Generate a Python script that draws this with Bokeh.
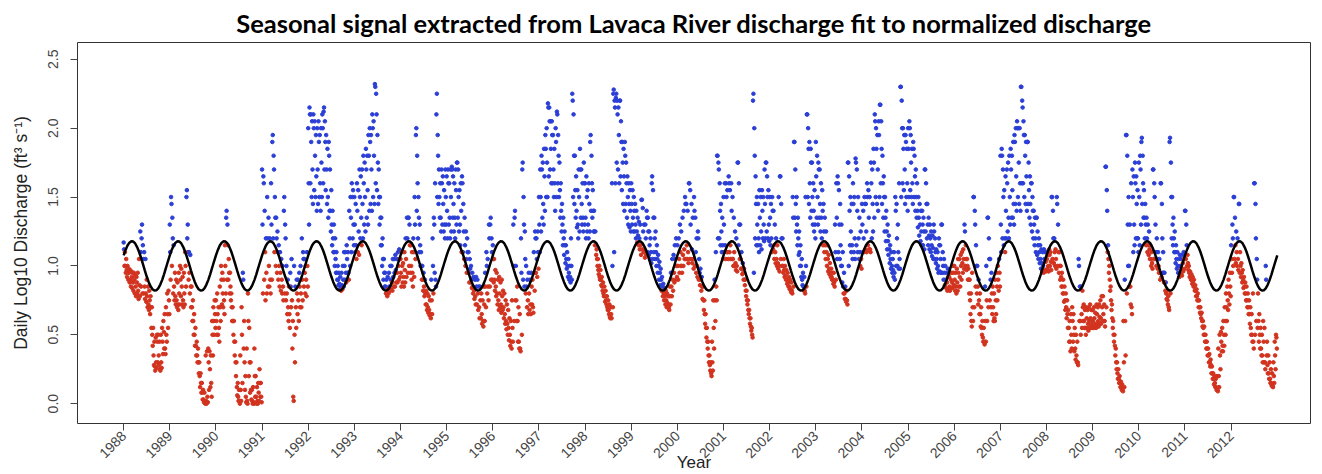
import math
from bokeh.plotting import figure
from bokeh.models import FixedTicker
from bokeh.embed import file_html
from bokeh.resources import INLINE

title_text = "Seasonal signal extracted from Lavaca River discharge fit to normalized discharge"
y_title = "Daily Log10 Discharge (ft\u00b3 s\u207b\u00b9)"
x_title = "Year"

years = list(range(1988, 2013))
year_labels = [str(y) for y in years]
y_ticks = [0.0, 0.5, 1.0, 1.5, 2.0, 2.5]
y_tick_labels = ["0.0", "0.5", "1.0", "1.5", "2.0", "2.5"]

# fitted seasonal signal, one year sampled twice a month (repeats every year)
seasonal_curve = [1.077, 1.116, 1.148, 1.169, 1.179, 1.177, 1.163, 1.137,
                  1.103, 1.061, 1.015, 0.968, 0.923, 0.884, 0.852, 0.831,
                  0.821, 0.823, 0.837, 0.863, 0.897, 0.939, 0.985, 1.032]

# log10 discharge in ~10-day windows:
# d = typical reading, hi = top of the point cloud, lo = bottom of the cloud
d1988 = [1.12, 1.0, 0.97, 0.95, 0.95, 0.9, 0.92, 0.88, 0.9, 0.85, 0.88, 0.82, 0.86, 1.1, 1.3, 1.05, 0.85, 0.8, 0.78, 0.72, 0.75, 0.7, 0.5, 0.35, 0.27, 0.3, 0.45, 0.35, 0.25, 0.3, 0.45, 0.52, 0.4, 0.5, 0.65, 0.75]
hi1988 = [1.17, 1.1, 1.05, 1.0, 0.98, 0.97, 0.96, 0.95, 0.95, 0.93, 0.92, 0.95, 1.05, 1.25, 1.2, 1.15, 1.1, 1.05, 0.9, 0.85, 0.82, 0.78, 0.7, 0.55, 0.45, 0.48, 0.5, 0.5, 0.45, 0.5, 0.55, 0.6, 0.65, 0.7, 0.8, 0.82]
lo1988 = [1.0, 0.95, 0.92, 0.9, 0.88, 0.85, 0.84, 0.82, 0.8, 0.78, 0.8, 0.76, 0.78, 0.85, 0.8, 0.8, 0.76, 0.74, 0.7, 0.68, 0.65, 0.55, 0.42, 0.28, 0.24, 0.26, 0.3, 0.28, 0.24, 0.26, 0.36, 0.4, 0.36, 0.45, 0.55, 0.65]
d1989 = [1.1, 1.45, 1.2, 0.85, 0.78, 0.75, 0.72, 0.8, 0.9, 0.85, 0.75, 0.8, 1.0, 1.55, 1.1, 0.95, 0.85, 0.7, 0.6, 0.5, 0.42, 0.35, 0.3, 0.2, 0.15, 0.08, 0.03, 0.01, 0.02, 0.05, 0.3, 0.25, 0.15, 0.5, 0.6, 0.65]
hi1989 = [1.3, 1.5, 1.35, 1.15, 0.95, 0.9, 0.88, 0.95, 1.0, 0.98, 0.92, 0.95, 1.1, 1.5, 1.3, 1.1, 1.08, 0.85, 0.75, 0.65, 0.55, 0.45, 0.4, 0.3, 0.22, 0.15, 0.1, 0.08, 0.35, 0.38, 0.4, 0.38, 0.35, 0.6, 0.7, 0.75]
lo1989 = [0.9, 1.0, 0.8, 0.75, 0.72, 0.7, 0.68, 0.72, 0.78, 0.72, 0.7, 0.72, 0.85, 1.2, 0.9, 0.8, 0.7, 0.6, 0.5, 0.42, 0.35, 0.3, 0.22, 0.12, 0.08, 0.03, 0.01, 0.0, 0.0, 0.01, 0.1, 0.12, 0.05, 0.35, 0.5, 0.55]
d1990 = [0.6, 0.65, 0.55, 0.7, 0.9, 0.8, 0.75, 1.0, 1.4, 1.15, 0.95, 0.85, 0.7, 0.6, 0.45, 0.3, 0.12, 0.05, 0.02, 0.1, 0.5, 0.9, 0.3, 0.05, 0.02, 0.6, 0.3, 0.1, 0.02, 0.01, 0.2, 0.05, 0.02, 0.08, 0.15, 0.05]
hi1990 = [0.75, 0.8, 0.7, 0.85, 1.0, 0.95, 0.9, 1.15, 1.35, 1.3, 1.05, 0.95, 0.8, 0.7, 0.6, 0.45, 0.3, 0.15, 0.1, 0.35, 0.7, 0.95, 0.6, 0.2, 0.4, 0.8, 0.55, 0.3, 0.1, 0.12, 0.4, 0.2, 0.12, 0.15, 0.25, 0.15]
lo1990 = [0.5, 0.5, 0.45, 0.6, 0.72, 0.7, 0.65, 0.8, 0.9, 0.9, 0.8, 0.75, 0.6, 0.5, 0.35, 0.2, 0.06, 0.02, 0.0, 0.02, 0.15, 0.4, 0.1, 0.01, 0.0, 0.2, 0.08, 0.03, 0.0, 0.0, 0.05, 0.0, 0.0, 0.02, 0.05, 0.01]
d1991 = [1.3, 1.6, 1.1, 0.95, 1.2, 1.0, 0.9, 1.3, 1.95, 1.7, 1.35, 1.2, 1.1, 1.0, 0.95, 0.9, 0.85, 1.5, 1.2, 0.8, 0.7, 0.65, 0.85, 0.75, 0.05, 0.5, 0.7, 0.8, 0.75, 0.85, 0.8, 0.9, 1.05, 0.95, 0.9, 1.0]
hi1991 = [1.7, 1.65, 1.4, 1.2, 1.5, 1.35, 1.2, 1.6, 1.9, 1.8, 1.5, 1.35, 1.25, 1.15, 1.1, 1.05, 1.0, 1.4, 1.3, 1.0, 0.9, 0.85, 0.95, 1.05, 0.6, 1.0, 0.85, 0.9, 0.9, 0.95, 1.0, 1.2, 1.1, 1.05, 1.0, 1.1]
lo1991 = [0.8, 0.9, 0.75, 0.8, 0.85, 0.85, 0.8, 0.9, 1.2, 1.1, 1.0, 0.95, 0.9, 0.85, 0.82, 0.8, 0.75, 0.8, 0.75, 0.65, 0.6, 0.55, 0.7, 0.4, 0.02, 0.3, 0.55, 0.65, 0.6, 0.7, 0.7, 0.75, 0.85, 0.8, 0.78, 0.85]
d1992 = [1.6, 2.1, 1.9, 1.7, 2.0, 1.8, 1.65, 1.7, 1.9, 1.6, 1.75, 2.0, 2.15, 1.9, 1.7, 1.5, 1.8, 1.4, 1.3, 1.2, 1.1, 1.05, 0.95, 0.9, 0.87, 0.85, 0.86, 0.9, 1.0, 0.95, 1.05, 0.95, 1.2, 1.35, 1.5, 1.3]
hi1992 = [2.0, 2.15, 2.1, 2.05, 2.1, 2.05, 1.95, 2.0, 2.05, 1.95, 2.0, 2.1, 2.12, 2.05, 1.95, 1.85, 1.9, 1.7, 1.55, 1.4, 1.3, 1.2, 1.1, 1.0, 0.95, 0.92, 0.95, 1.0, 1.1, 1.1, 1.15, 1.1, 1.4, 1.5, 1.6, 1.55]
lo1992 = [1.3, 1.6, 1.5, 1.45, 1.55, 1.5, 1.4, 1.45, 1.5, 1.4, 1.5, 1.6, 1.7, 1.55, 1.45, 1.35, 1.4, 1.25, 1.15, 1.1, 1.0, 0.95, 0.9, 0.86, 0.83, 0.82, 0.83, 0.85, 0.9, 0.88, 0.95, 0.9, 1.0, 1.1, 1.2, 1.15]
d1993 = [1.3, 1.15, 1.4, 1.25, 1.5, 1.35, 1.45, 1.6, 1.5, 1.7, 1.55, 1.8, 1.9, 1.7, 2.0, 1.8, 2.3, 2.1, 1.75, 1.5, 1.35, 1.15, 1.05, 0.95, 0.85, 0.8, 0.83, 0.85, 0.9, 0.88, 0.92, 0.95, 0.97, 0.95, 1.0, 1.05]
hi1993 = [1.5, 1.45, 1.6, 1.55, 1.7, 1.65, 1.7, 1.8, 1.75, 1.85, 1.8, 1.95, 2.0, 1.95, 2.1, 2.05, 2.32, 2.25, 1.95, 1.7, 1.5, 1.35, 1.2, 1.05, 0.95, 0.9, 0.92, 0.95, 1.0, 1.0, 1.05, 1.05, 1.08, 1.05, 1.1, 1.12]
lo1993 = [1.1, 1.05, 1.1, 1.08, 1.2, 1.15, 1.2, 1.3, 1.25, 1.35, 1.3, 1.4, 1.45, 1.4, 1.5, 1.45, 1.6, 1.55, 1.45, 1.3, 1.15, 1.0, 0.9, 0.85, 0.8, 0.78, 0.8, 0.82, 0.83, 0.82, 0.85, 0.85, 0.88, 0.88, 0.9, 0.92]
d1994 = [0.95, 1.0, 0.92, 0.97, 1.05, 1.2, 1.35, 1.15, 1.0, 0.95, 1.1, 1.3, 2.0, 1.6, 1.35, 1.15, 1.0, 0.9, 0.85, 0.8, 0.72, 0.7, 0.68, 0.65, 0.75, 1.0, 1.3, 0.9, 2.25, 1.8, 1.5, 1.35, 1.6, 1.45, 1.3, 1.5]
hi1994 = [1.05, 1.1, 1.02, 1.1, 1.2, 1.35, 1.35, 1.3, 1.15, 1.1, 1.2, 1.5, 1.95, 1.8, 1.5, 1.3, 1.1, 1.0, 0.95, 0.9, 0.82, 0.8, 0.78, 0.75, 0.9, 1.2, 1.35, 1.6, 2.1, 1.95, 1.7, 1.6, 1.7, 1.65, 1.55, 1.7]
lo1994 = [0.85, 0.88, 0.85, 0.88, 0.92, 0.95, 1.0, 0.95, 0.9, 0.85, 0.92, 1.05, 1.4, 1.2, 1.1, 1.0, 0.9, 0.82, 0.78, 0.72, 0.68, 0.66, 0.64, 0.62, 0.65, 0.8, 0.95, 0.85, 1.5, 1.45, 1.35, 1.25, 1.3, 1.25, 1.2, 1.3]
d1995 = [1.4, 1.6, 1.35, 1.5, 1.7, 1.45, 1.35, 1.55, 1.75, 1.5, 1.3, 1.4, 1.6, 1.25, 1.15, 1.05, 1.1, 0.95, 0.98, 0.9, 0.85, 0.82, 0.78, 0.85, 0.8, 0.7, 0.75, 0.65, 0.6, 0.72, 0.85, 1.0, 0.85, 1.2, 1.35, 1.1]
hi1995 = [1.65, 1.7, 1.6, 1.7, 1.72, 1.65, 1.6, 1.7, 1.75, 1.7, 1.55, 1.6, 1.65, 1.45, 1.35, 1.25, 1.2, 1.1, 1.05, 1.0, 0.95, 0.92, 0.9, 0.92, 0.9, 0.85, 0.85, 0.8, 0.75, 0.85, 0.95, 1.1, 1.05, 1.3, 1.3, 1.2]
lo1995 = [1.2, 1.3, 1.2, 1.25, 1.35, 1.25, 1.2, 1.3, 1.35, 1.25, 1.15, 1.1, 1.1, 1.05, 1.0, 0.95, 0.95, 0.88, 0.88, 0.84, 0.8, 0.76, 0.72, 0.72, 0.68, 0.62, 0.62, 0.58, 0.56, 0.6, 0.7, 0.8, 0.75, 0.85, 0.9, 0.9]
d1996 = [1.05, 0.9, 0.85, 0.8, 0.75, 0.8, 0.72, 0.78, 0.7, 0.65, 0.6, 0.58, 0.55, 0.5, 0.45, 0.55, 1.0, 1.4, 0.75, 0.6, 0.45, 0.4, 0.95, 1.75, 1.3, 1.05, 0.85, 0.75, 0.8, 0.72, 0.85, 0.7, 0.95, 1.2, 1.05, 1.1]
hi1996 = [1.15, 1.05, 0.97, 0.95, 0.9, 0.92, 0.88, 0.9, 0.82, 0.8, 0.75, 0.72, 0.68, 0.62, 0.6, 0.75, 1.3, 1.35, 1.0, 0.85, 0.7, 0.65, 1.2, 1.7, 1.5, 1.25, 1.0, 0.9, 0.95, 0.9, 0.95, 0.9, 1.1, 1.25, 1.2, 1.25]
lo1996 = [0.88, 0.82, 0.78, 0.72, 0.68, 0.7, 0.66, 0.68, 0.62, 0.58, 0.54, 0.5, 0.46, 0.42, 0.4, 0.45, 0.6, 0.75, 0.6, 0.45, 0.4, 0.38, 0.5, 0.9, 0.85, 0.8, 0.7, 0.65, 0.68, 0.65, 0.72, 0.66, 0.82, 0.95, 0.92, 0.98]
d1997 = [1.3, 1.5, 1.7, 1.45, 1.65, 1.85, 1.75, 2.15, 2.05, 1.85, 1.95, 1.7, 1.6, 1.9, 2.1, 1.8, 1.55, 1.4, 1.3, 1.2, 1.15, 1.05, 1.0, 0.95, 0.92, 1.0, 2.2, 1.8, 1.55, 1.4, 1.3, 1.5, 1.7, 1.45, 1.35, 1.6]
hi1997 = [1.5, 1.7, 1.8, 1.75, 1.85, 1.95, 2.0, 2.18, 2.15, 2.05, 2.05, 1.95, 1.85, 2.0, 2.12, 1.95, 1.75, 1.6, 1.45, 1.35, 1.25, 1.15, 1.1, 1.05, 1.0, 1.2, 2.25, 2.1, 1.8, 1.65, 1.55, 1.7, 1.85, 1.7, 1.6, 1.75]
lo1997 = [1.1, 1.25, 1.35, 1.3, 1.4, 1.5, 1.5, 1.65, 1.7, 1.6, 1.6, 1.5, 1.4, 1.5, 1.6, 1.5, 1.35, 1.25, 1.15, 1.08, 1.02, 0.98, 0.92, 0.9, 0.88, 0.9, 1.5, 1.45, 1.35, 1.28, 1.2, 1.25, 1.35, 1.3, 1.25, 1.3]
d1998 = [1.35, 1.5, 1.3, 1.45, 1.95, 1.6, 1.4, 1.25, 1.15, 1.05, 0.97, 0.92, 0.9, 0.85, 0.8, 0.78, 0.75, 0.7, 0.68, 0.63, 0.65, 1.0, 2.28, 2.15, 2.25, 2.1, 1.95, 2.2, 1.9, 1.75, 1.65, 1.8, 1.6, 1.5, 1.45, 1.4]
hi1998 = [1.6, 1.65, 1.55, 1.6, 1.9, 1.8, 1.55, 1.4, 1.25, 1.12, 1.05, 1.0, 0.97, 0.92, 0.88, 0.85, 0.82, 0.78, 0.75, 0.72, 0.7, 1.6, 2.25, 2.2, 2.22, 2.2, 2.15, 2.2, 2.05, 1.9, 1.85, 1.9, 1.75, 1.65, 1.6, 1.55]
lo1998 = [1.2, 1.25, 1.2, 1.25, 1.4, 1.35, 1.25, 1.15, 1.08, 1.0, 0.94, 0.9, 0.86, 0.82, 0.78, 0.74, 0.72, 0.68, 0.65, 0.62, 0.62, 0.7, 1.1, 1.6, 1.75, 1.7, 1.6, 1.65, 1.55, 1.45, 1.4, 1.45, 1.35, 1.3, 1.28, 1.25]
d1999 = [1.45, 1.35, 1.4, 1.3, 1.25, 1.22, 1.2, 1.15, 1.48, 1.25, 1.12, 1.2, 1.35, 1.25, 1.15, 1.1, 1.65, 1.35, 1.2, 1.1, 1.05, 1.0, 0.95, 0.9, 0.85, 0.8, 0.78, 0.75, 0.73, 0.7, 0.78, 0.85, 0.9, 0.95, 1.05, 1.0]
hi1999 = [1.6, 1.55, 1.5, 1.45, 1.4, 1.35, 1.32, 1.3, 1.48, 1.42, 1.3, 1.3, 1.4, 1.35, 1.25, 1.2, 1.6, 1.55, 1.35, 1.25, 1.15, 1.08, 1.03, 0.98, 0.92, 0.87, 0.84, 0.82, 0.8, 0.78, 0.85, 0.95, 1.05, 1.08, 1.15, 1.2]
lo1999 = [1.3, 1.25, 1.25, 1.2, 1.17, 1.15, 1.12, 1.08, 1.12, 1.1, 1.06, 1.08, 1.1, 1.08, 1.05, 1.02, 1.05, 1.1, 1.05, 1.0, 0.95, 0.9, 0.86, 0.82, 0.78, 0.75, 0.72, 0.7, 0.7, 0.68, 0.72, 0.78, 0.82, 0.88, 0.9, 0.92]
d2000 = [1.0, 1.05, 1.1, 1.0, 1.08, 1.12, 1.45, 1.15, 1.1, 1.6, 1.3, 1.12, 1.05, 1.4, 1.1, 1.0, 1.2, 0.95, 0.9, 0.85, 0.75, 0.65, 0.55, 0.45, 0.35, 0.28, 0.22, 0.3, 0.55, 0.75, 0.85, 1.8, 1.7, 1.4, 1.25, 1.15]
hi2000 = [1.15, 1.2, 1.3, 1.25, 1.35, 1.4, 1.5, 1.45, 1.4, 1.6, 1.55, 1.45, 1.35, 1.5, 1.35, 1.2, 1.25, 1.05, 0.98, 0.92, 0.85, 0.75, 0.65, 0.55, 0.45, 0.35, 0.3, 0.45, 0.75, 0.9, 1.1, 1.8, 1.75, 1.6, 1.45, 1.35]
lo2000 = [0.9, 0.95, 1.0, 0.95, 1.0, 1.05, 1.05, 1.05, 1.02, 1.05, 1.05, 1.02, 0.98, 1.0, 0.95, 0.92, 0.9, 0.86, 0.82, 0.76, 0.68, 0.58, 0.48, 0.4, 0.3, 0.24, 0.2, 0.24, 0.4, 0.6, 0.75, 1.2, 1.2, 1.15, 1.1, 1.05]
d2001 = [1.3, 1.15, 1.5, 1.1, 1.6, 1.15, 1.4, 1.05, 1.1, 1.02, 1.0, 1.75, 1.3, 1.05, 0.98, 0.95, 0.9, 0.82, 0.75, 0.68, 0.62, 0.56, 0.5, 2.25, 1.8, 1.45, 1.3, 1.2, 1.35, 1.25, 1.4, 1.3, 1.45, 1.75, 1.5, 1.3]
hi2001 = [1.5, 1.6, 1.6, 1.55, 1.65, 1.55, 1.6, 1.5, 1.35, 1.25, 1.2, 1.75, 1.6, 1.3, 1.1, 1.02, 0.98, 0.9, 0.82, 0.75, 0.68, 0.62, 0.55, 2.2, 2.0, 1.65, 1.5, 1.45, 1.55, 1.5, 1.55, 1.5, 1.7, 1.75, 1.65, 1.55]
lo2001 = [1.1, 1.05, 1.1, 1.05, 1.1, 1.05, 1.05, 1.0, 1.0, 0.97, 0.96, 1.15, 1.05, 0.98, 0.94, 0.9, 0.86, 0.78, 0.72, 0.65, 0.58, 0.53, 0.48, 0.95, 1.2, 1.15, 1.15, 1.1, 1.15, 1.12, 1.2, 1.18, 1.2, 1.25, 1.2, 1.18]
d2002 = [1.35, 1.2, 1.4, 1.15, 1.1, 1.05, 1.02, 1.0, 1.65, 1.2, 1.0, 0.97, 0.93, 0.9, 0.88, 0.85, 0.83, 0.82, 1.35, 1.9, 1.45, 1.3, 1.2, 1.1, 1.0, 0.9, 0.85, 0.82, 1.0, 2.1, 1.85, 1.6, 1.75, 1.5, 1.4, 1.3]
hi2002 = [1.5, 1.45, 1.5, 1.4, 1.3, 1.2, 1.15, 1.5, 1.65, 1.45, 1.2, 1.05, 1.0, 0.97, 0.95, 0.92, 0.9, 0.88, 1.5, 1.9, 1.7, 1.5, 1.35, 1.25, 1.15, 1.05, 0.95, 0.92, 1.5, 2.1, 2.0, 1.9, 1.85, 1.75, 1.6, 1.55]
lo2002 = [1.15, 1.1, 1.12, 1.05, 1.02, 1.0, 0.98, 0.96, 1.05, 1.0, 0.95, 0.92, 0.9, 0.87, 0.85, 0.83, 0.81, 0.8, 0.85, 1.35, 1.25, 1.15, 1.08, 1.0, 0.92, 0.86, 0.82, 0.8, 0.85, 1.5, 1.45, 1.35, 1.4, 1.3, 1.25, 1.2]
d2003 = [1.65, 1.5, 1.7, 1.45, 1.35, 1.4, 1.25, 1.15, 1.1, 1.05, 0.98, 0.95, 0.92, 0.9, 0.88, 1.1, 1.35, 1.6, 1.3, 1.15, 1.0, 0.85, 0.8, 0.76, 0.75, 1.75, 1.4, 1.25, 1.15, 1.45, 1.2, 1.75, 1.4, 1.2, 1.1, 1.05]
hi2003 = [1.9, 1.8, 1.75, 1.7, 1.6, 1.55, 1.45, 1.35, 1.25, 1.15, 1.08, 1.02, 0.98, 0.95, 0.95, 1.3, 1.6, 1.65, 1.55, 1.45, 1.3, 1.1, 0.95, 0.85, 0.82, 1.75, 1.65, 1.5, 1.45, 1.6, 1.5, 1.78, 1.7, 1.5, 1.35, 1.25]
lo2003 = [1.35, 1.3, 1.35, 1.25, 1.2, 1.15, 1.1, 1.05, 1.0, 0.96, 0.94, 0.92, 0.9, 0.87, 0.85, 0.9, 1.05, 1.1, 1.05, 1.0, 0.88, 0.8, 0.76, 0.74, 0.72, 1.0, 1.15, 1.1, 1.05, 1.1, 1.05, 1.15, 1.1, 1.05, 1.0, 0.98]
d2004 = [1.3, 1.2, 1.45, 1.25, 1.5, 1.35, 1.12, 1.6, 1.45, 1.75, 2.05, 1.85, 1.7, 1.95, 2.17, 1.85, 1.6, 1.5, 1.35, 1.25, 1.18, 1.12, 1.05, 1.0, 0.97, 0.95, 1.4, 1.2, 1.1, 1.05, 2.3, 2.0, 1.85, 1.7, 1.9, 1.6]
hi2004 = [1.45, 1.4, 1.5, 1.45, 1.6, 1.55, 1.5, 1.75, 1.7, 1.85, 2.1, 2.0, 1.95, 2.05, 2.17, 2.05, 1.8, 1.65, 1.5, 1.4, 1.3, 1.22, 1.15, 1.1, 1.05, 1.1, 1.5, 1.45, 1.3, 1.6, 2.3, 2.2, 2.0, 1.95, 1.95, 1.85]
lo2004 = [1.1, 1.1, 1.12, 1.1, 1.15, 1.12, 1.1, 1.2, 1.25, 1.35, 1.5, 1.45, 1.4, 1.5, 1.6, 1.45, 1.35, 1.25, 1.18, 1.12, 1.08, 1.02, 0.98, 0.95, 0.92, 0.9, 1.0, 1.0, 0.98, 0.98, 1.5, 1.6, 1.55, 1.45, 1.5, 1.4]
d2005 = [1.85, 2.0, 1.75, 1.6, 1.85, 1.65, 1.5, 1.4, 1.35, 1.3, 1.25, 1.3, 1.25, 1.7, 1.45, 1.3, 1.22, 1.2, 1.15, 1.13, 1.25, 1.1, 1.05, 1.0, 1.15, 1.05, 1.3, 1.0, 0.95, 0.9, 0.88, 0.92, 0.85, 0.9, 0.88, 0.95]
hi2005 = [2.0, 2.05, 1.95, 1.85, 1.9, 1.8, 1.7, 1.6, 1.5, 1.45, 1.4, 1.4, 1.35, 1.7, 1.6, 1.45, 1.35, 1.3, 1.25, 1.22, 1.3, 1.2, 1.12, 1.1, 1.2, 1.15, 1.3, 1.1, 1.05, 1.0, 0.95, 0.98, 0.92, 0.95, 0.95, 1.0]
lo2005 = [1.5, 1.55, 1.5, 1.45, 1.5, 1.4, 1.35, 1.28, 1.22, 1.18, 1.15, 1.15, 1.12, 1.25, 1.2, 1.15, 1.12, 1.1, 1.07, 1.05, 1.05, 1.02, 0.98, 0.95, 0.96, 0.95, 0.95, 0.9, 0.86, 0.84, 0.82, 0.83, 0.82, 0.84, 0.84, 0.86]
d2006 = [0.9, 0.85, 0.88, 0.95, 0.92, 1.0, 1.02, 1.05, 1.25, 1.05, 1.0, 0.9, 0.75, 0.6, 0.7, 1.5, 1.3, 1.0, 0.85, 0.75, 0.65, 0.55, 0.48, 0.45, 0.6, 0.75, 1.35, 1.05, 0.9, 0.8, 0.7, 0.62, 0.75, 0.85, 0.9, 0.95]
hi2006 = [1.0, 0.95, 0.98, 1.05, 1.05, 1.08, 1.1, 1.12, 1.3, 1.15, 1.05, 0.98, 0.9, 0.8, 0.95, 1.5, 1.4, 1.15, 1.0, 0.9, 0.8, 0.7, 0.6, 0.55, 0.85, 1.0, 1.35, 1.2, 1.05, 0.95, 0.85, 0.8, 0.9, 0.95, 1.0, 1.05]
lo2006 = [0.82, 0.8, 0.82, 0.85, 0.85, 0.9, 0.95, 0.98, 1.0, 0.97, 0.9, 0.8, 0.65, 0.56, 0.6, 0.7, 0.85, 0.8, 0.72, 0.65, 0.56, 0.5, 0.45, 0.43, 0.45, 0.6, 0.7, 0.75, 0.7, 0.65, 0.6, 0.6, 0.65, 0.75, 0.82, 0.85]
d2007 = [1.3, 1.8, 1.5, 1.2, 1.4, 1.6, 1.35, 1.5, 1.7, 1.55, 1.45, 1.9, 1.65, 2.0, 1.75, 1.6, 2.3, 2.15, 1.95, 1.8, 1.65, 1.9, 1.55, 1.45, 1.6, 1.4, 1.3, 1.2, 1.35, 1.15, 1.1, 1.05, 1.02, 1.0, 1.05, 1.03]
hi2007 = [1.8, 1.85, 1.7, 1.55, 1.65, 1.7, 1.75, 1.8, 1.85, 1.8, 1.9, 1.95, 2.0, 2.05, 2.0, 2.0, 2.3, 2.2, 2.05, 1.95, 1.9, 1.9, 1.75, 1.65, 1.6, 1.5, 1.4, 1.35, 1.35, 1.25, 1.2, 1.15, 1.12, 1.1, 1.12, 1.1]
lo2007 = [1.1, 1.2, 1.15, 1.1, 1.2, 1.25, 1.2, 1.3, 1.35, 1.35, 1.3, 1.45, 1.4, 1.5, 1.45, 1.4, 1.6, 1.6, 1.5, 1.45, 1.4, 1.45, 1.35, 1.3, 1.25, 1.2, 1.15, 1.1, 1.08, 1.05, 1.02, 0.98, 0.96, 0.95, 0.97, 0.96]
d2008 = [1.05, 1.0, 1.08, 1.03, 1.5, 1.2, 1.1, 1.05, 1.45, 1.1, 1.0, 0.92, 0.85, 0.8, 0.75, 0.7, 0.65, 0.55, 0.45, 0.5, 0.6, 0.5, 0.4, 0.35, 0.3, 1.0, 0.6, 0.65, 0.7, 0.6, 0.55, 0.62, 0.58, 0.6, 0.62, 0.58]
hi2008 = [1.1, 1.08, 1.12, 1.1, 1.5, 1.4, 1.2, 1.12, 1.5, 1.3, 1.1, 1.0, 0.95, 0.9, 0.85, 0.8, 0.75, 0.68, 0.6, 0.65, 0.7, 0.65, 0.55, 0.5, 0.45, 1.05, 0.85, 0.85, 0.82, 0.72, 0.68, 0.7, 0.68, 0.7, 0.72, 0.68]
lo2008 = [0.98, 0.96, 1.0, 0.97, 1.05, 1.02, 1.0, 0.98, 1.0, 0.95, 0.9, 0.85, 0.8, 0.74, 0.68, 0.62, 0.55, 0.45, 0.38, 0.4, 0.45, 0.38, 0.32, 0.3, 0.28, 0.6, 0.5, 0.55, 0.6, 0.55, 0.5, 0.55, 0.53, 0.55, 0.56, 0.55]
d2009 = [0.6, 0.62, 0.58, 0.65, 0.6, 0.63, 0.62, 0.7, 0.65, 0.6, 1.72, 1.4, 1.05, 0.9, 0.75, 0.62, 0.5, 0.42, 0.3, 0.22, 0.18, 0.15, 0.12, 0.1, 0.3, 0.6, 1.95, 1.3, 1.0, 0.85, 0.7, 1.5, 1.3, 1.6, 1.45, 1.2]
hi2009 = [0.68, 0.7, 0.66, 0.72, 0.7, 0.72, 0.75, 0.78, 0.78, 0.72, 1.72, 1.55, 1.15, 1.0, 0.85, 0.72, 0.6, 0.5, 0.4, 0.3, 0.25, 0.2, 0.16, 0.14, 0.6, 0.9, 1.95, 1.8, 1.5, 1.3, 1.6, 1.7, 1.65, 1.75, 1.65, 1.55]
lo2009 = [0.55, 0.56, 0.55, 0.57, 0.56, 0.58, 0.58, 0.6, 0.6, 0.56, 0.7, 1.1, 0.95, 0.82, 0.68, 0.55, 0.45, 0.35, 0.25, 0.18, 0.15, 0.12, 0.1, 0.09, 0.12, 0.35, 0.8, 1.0, 0.85, 0.72, 0.65, 1.1, 1.15, 1.2, 1.2, 1.1]
d2010 = [1.5, 1.7, 1.93, 1.6, 1.35, 1.3, 1.2, 1.15, 1.12, 1.05, 1.02, 1.7, 1.5, 1.1, 1.05, 1.0, 0.95, 1.6, 1.2, 0.95, 0.88, 0.8, 0.75, 0.7, 1.93, 1.5, 1.3, 1.2, 1.1, 1.05, 1.0, 0.95, 1.0, 0.98, 1.02, 1.05]
hi2010 = [1.75, 1.8, 1.9, 1.8, 1.55, 1.45, 1.35, 1.3, 1.25, 1.15, 1.1, 1.7, 1.6, 1.3, 1.2, 1.1, 1.05, 1.6, 1.45, 1.1, 0.95, 0.88, 0.82, 0.78, 1.9, 1.75, 1.5, 1.35, 1.25, 1.15, 1.1, 1.05, 1.08, 1.05, 1.08, 1.1]
lo2010 = [1.15, 1.3, 1.45, 1.35, 1.2, 1.15, 1.1, 1.08, 1.05, 1.0, 0.98, 1.05, 1.05, 1.0, 0.98, 0.95, 0.9, 0.92, 0.95, 0.88, 0.82, 0.76, 0.72, 0.68, 0.8, 1.2, 1.15, 1.1, 1.02, 0.98, 0.95, 0.92, 0.94, 0.93, 0.96, 0.98]
d2011 = [1.4, 1.15, 1.02, 0.95, 0.92, 0.9, 0.88, 0.85, 0.82, 0.78, 0.75, 0.7, 0.65, 0.6, 0.55, 0.5, 0.45, 0.4, 0.35, 0.3, 0.28, 0.22, 0.18, 0.15, 0.12, 0.1, 0.2, 0.35, 0.45, 0.42, 0.5, 0.6, 0.7, 0.75, 0.8, 0.85]
hi2011 = [1.4, 1.3, 1.08, 1.0, 0.96, 0.94, 0.92, 0.9, 0.86, 0.83, 0.8, 0.75, 0.7, 0.66, 0.6, 0.56, 0.5, 0.45, 0.4, 0.36, 0.32, 0.27, 0.22, 0.2, 0.18, 0.2, 0.4, 0.5, 0.52, 0.55, 0.6, 0.7, 0.8, 0.85, 0.9, 0.95]
lo2011 = [1.05, 1.0, 0.97, 0.92, 0.9, 0.87, 0.85, 0.82, 0.78, 0.75, 0.7, 0.66, 0.62, 0.56, 0.5, 0.45, 0.4, 0.35, 0.3, 0.27, 0.22, 0.18, 0.14, 0.12, 0.1, 0.09, 0.12, 0.25, 0.38, 0.38, 0.42, 0.5, 0.6, 0.68, 0.72, 0.78]
d2012 = [1.05, 1.2, 1.5, 1.15, 1.1, 1.05, 1.45, 1.0, 0.95, 0.9, 0.85, 0.8, 0.75, 0.7, 0.65, 0.55, 0.5, 0.45, 1.6, 1.2, 0.9, 0.6, 0.5, 0.4, 0.35, 0.45, 0.3, 0.9, 0.28, 0.22, 0.18, 0.15, 0.13, 0.2, 0.35, 0.48]
hi2012 = [1.15, 1.3, 1.5, 1.35, 1.25, 1.2, 1.45, 1.1, 1.02, 0.97, 0.92, 0.88, 0.85, 0.8, 0.75, 0.7, 0.65, 0.8, 1.6, 1.45, 1.05, 0.8, 0.65, 0.55, 0.5, 0.6, 0.55, 1.0, 0.45, 0.35, 0.3, 0.25, 0.22, 0.3, 0.45, 0.5]
lo2012 = [0.95, 1.0, 1.05, 1.02, 1.0, 0.97, 0.95, 0.92, 0.88, 0.84, 0.8, 0.75, 0.7, 0.65, 0.58, 0.5, 0.45, 0.4, 0.5, 0.6, 0.55, 0.45, 0.4, 0.35, 0.3, 0.3, 0.25, 0.35, 0.22, 0.18, 0.15, 0.13, 0.12, 0.15, 0.25, 0.4]

typical = [d1988, d1989, d1990, d1991, d1992, d1993, d1994, d1995, d1996, d1997,
           d1998, d1999, d2000, d2001, d2002, d2003, d2004, d2005, d2006, d2007,
           d2008, d2009, d2010, d2011, d2012]
upper = [hi1988, hi1989, hi1990, hi1991, hi1992, hi1993, hi1994, hi1995, hi1996, hi1997,
         hi1998, hi1999, hi2000, hi2001, hi2002, hi2003, hi2004, hi2005, hi2006, hi2007,
         hi2008, hi2009, hi2010, hi2011, hi2012]
lower = [lo1988, lo1989, lo1990, lo1991, lo1992, lo1993, lo1994, lo1995, lo1996, lo1997,
         lo1998, lo1999, lo2000, lo2001, lo2002, lo2003, lo2004, lo2005, lo2006, lo2007,
         lo2008, lo2009, lo2010, lo2011, lo2012]

# seasonal curve through time
curve_x, curve_y = [], []
for yr in years:
    for i, c in enumerate(seasonal_curve):
        curve_x.append(yr + i / len(seasonal_curve))
        curve_y.append(c)
curve_x.append(years[-1] + 1)
curve_y.append(seasonal_curve[0])


def curve_at(t):
    frac = t - math.floor(t)
    pos = frac * len(seasonal_curve)
    i = int(pos)
    f = pos - i
    a = seasonal_curve[i % len(seasonal_curve)]
    b = seasonal_curve[(i + 1) % len(seasonal_curve)]
    return a * (1 - f) + b * f


above_x, above_y, below_x, below_y = [], [], [], []
for series, shift in ((upper, 0.0), (typical, 1.0 / 3.0), (lower, 2.0 / 3.0)):
    for yr, arr in zip(years, series):
        n = len(arr)
        for k, v in enumerate(arr):
            t = yr + (k + shift) / n
            if v > curve_at(t):
                above_x.append(t)
                above_y.append(v)
            else:
                below_x.append(t)
                below_y.append(v)

p = figure(width=1322, height=474, output_backend="svg", toolbar_location=None,
           x_range=(1987.0, 2013.72), y_range=(-0.144, 2.622),
           min_border_left=77, min_border_right=12, min_border_top=40,
           min_border_bottom=50, background_fill_color="white",
           border_fill_color="white")

p.title.text = title_text
p.title.align = "center"
p.title.text_font = "Lato"
p.title.text_font_style = "bold"
p.title.text_font_size = "25.5px"
p.title.text_color = "black"
p.title.standoff = 10

p.outline_line_color = "#333333"
p.outline_line_width = 1
p.xgrid.grid_line_color = None
p.ygrid.grid_line_color = None

p.yaxis.ticker = FixedTicker(ticks=y_ticks)
p.yaxis.major_label_overrides = {t: l for t, l in zip(y_ticks, y_tick_labels)}
p.yaxis.major_label_orientation = "vertical"
p.yaxis.axis_label = y_title
p.yaxis.axis_label_text_font_size = "17.5px"
p.yaxis.axis_label_standoff = 15

p.xaxis.ticker = FixedTicker(ticks=years)
p.xaxis.major_label_overrides = {y: l for y, l in zip(years, year_labels)}
p.xaxis.major_label_orientation = math.pi / 4
p.xaxis.axis_label = x_title
p.xaxis.axis_label_text_font_size = "17px"
p.xaxis.axis_label_standoff = -13

for ax in (p.xaxis, p.yaxis):
    ax.axis_line_color = None
    ax.major_tick_line_color = "#444444"
    ax.major_tick_out = 7
    ax.major_tick_in = 0
    ax.minor_tick_line_color = None
    ax.major_label_text_font = "Liberation Sans"
    ax.major_label_text_font_size = "14px"
    ax.major_label_text_color = "#444444"
    ax.axis_label_text_font = "Liberation Sans"
    ax.axis_label_text_font_style = "normal"
    ax.axis_label_text_color = "#222222"
p.yaxis.major_label_standoff = 12
p.xaxis.major_label_standoff = 3

p.scatter(above_x, above_y, marker="circle", size=3.6, fill_color="#2b3fd6",
          line_color="#2b3fd6")
p.scatter(below_x, below_y, marker="circle", size=3.6, fill_color="#d2331f",
          line_color="#d2331f")
p.line(curve_x, curve_y, line_color="black", line_width=2.5)

open("out.html", "w").write(file_html(p, INLINE))
